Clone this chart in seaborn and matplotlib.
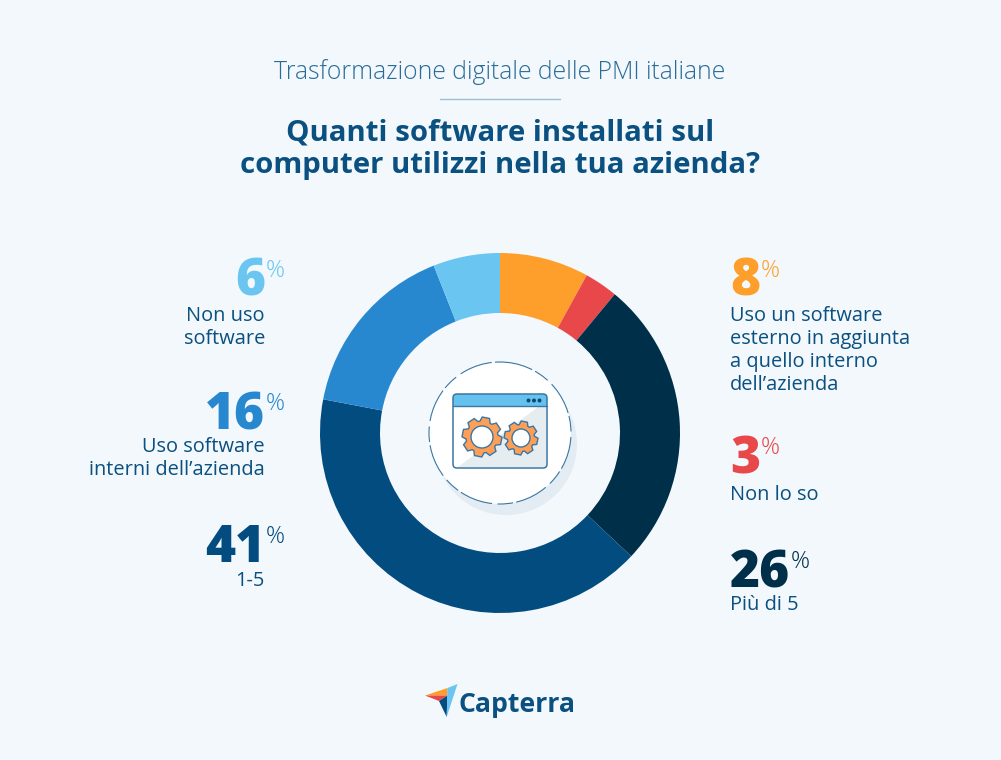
import numpy as np
import seaborn as sns
from matplotlib import pyplot as plt
from matplotlib.patches import Circle, FancyBboxPatch, Polygon, Rectangle

values = [8, 3, 26, 41, 16, 6]
labels = [
    "Uso un software\nesterno in aggiunta\na quello interno\ndell\u2019azienda",
    "Non lo so",
    "Pi\u00f9 di 5",
    "1-5",
    "Uso software\ninterni dell\u2019azienda",
    "Non uso\nsoftware",
]
colors = ["#FF9F2B", "#E8484A", "#002F4A", "#024C80", "#2788D0", "#6AC6F1"]
subtitle = "Trasformazione digitale delle PMI italiane"
title = "Quanti software installati sul\ncomputer utilizzi nella tua azienda?"

BG = "#F3F8FC"
TEXT = "#0A5080"

# x, number baseline y, y of top of label text (picture pixels)
label_pos = [(730, 296, 306), (730, 473, 485), (730, 587, 595), (265, 562, 571), (265, 429, 437), (265, 296, 306)]


def gear(ax, cx, cy, r_out, r_root, r_hole, teeth=8, start=0.2):
    pts = []
    step = 2 * np.pi / teeth
    for i in range(teeth):
        a = start + i * step
        for da, r in [(-.30, r_root), (-.17, r_out), (.17, r_out), (.30, r_root)]:
            pts.append((cx + r * np.cos(a + da * step * 1.4), cy + r * np.sin(a + da * step * 1.4)))
    ax.add_patch(Polygon(pts, closed=True, fc="#FF9F55", ec="#3A76A3", lw=1, zorder=6))
    ax.add_patch(Circle((cx, cy), r_hole, fc="white", ec="#3A76A3", lw=1, zorder=7))


sns.set_theme(style="white")
plt.rcParams['font.family'] = ['Open Sans', 'DejaVu Sans']

fig = plt.figure(figsize=(10.01, 7.6), dpi=100, facecolor=BG)

# donut: center (500, 433) radius 180 in picture pixels
ax_pie = fig.add_axes([320 / 1001, (760 - 613) / 760, 360 / 1001, 360 / 760])
ax_pie.pie(values, colors=colors, startangle=90, counterclock=False, radius=1,
           wedgeprops=dict(width=60 / 180, linewidth=0))
ax_pie.set_xlim(-1, 1)
ax_pie.set_ylim(-1, 1)
ax_pie.axis('off')

# overlay in picture pixels for text and icon
ax = fig.add_axes([0, 0, 1, 1], facecolor='none')
ax.set_xlim(0, 1001)
ax.set_ylim(760, 0)
ax.axis('off')

ax.text(500, 72.5, subtitle, ha='center', va='center', fontsize=17.8, color="#2A6C99", fontweight='light')
ax.plot([440, 560], [99, 99], color="#9CBFD2", lw=1)
ax.text(500, 149.5, title, ha='center', va='center', fontsize=21.2, color=TEXT, fontweight='bold',
        linespacing=1.17)

for value, label, color, (x, y, y_label) in zip(values, labels, colors, label_pos):
    left = x > 500
    num = ax.text(x, y, str(value), ha='left' if left else 'right', va='baseline',
                  fontsize=37, fontweight='heavy', color=color)
    fig.canvas.draw()
    bb = num.get_window_extent()
    x_pct = bb.x1 + 1
    ax.text(x_pct, y - 19, "%", ha='left', va='baseline', fontsize=17, color=color, fontweight='light')
    ax.text(x, y_label, label, ha='left' if left else 'right', va='top', fontsize=14.4,
            color=TEXT, linespacing=1.19, multialignment='left' if left else 'right')

# icon
ax.add_patch(Circle((506, 444), 71, fc="#E3ECF2", ec='none', zorder=2))
ax.add_patch(Circle((500, 433), 71, fc="white", ec="#3A76A3", lw=.8, ls=(0, (30, 3, 14, 5)), zorder=3))
ax.add_patch(FancyBboxPatch((453, 394), 94, 74, boxstyle="round,pad=0,rounding_size=4",
                            fc="white", ec='none', zorder=4))
ax.add_patch(Polygon([(538, 407), (546, 407), (546, 467), (458, 467)], closed=True, fc="#E6EDF1", ec='none', zorder=4))
ax.add_patch(FancyBboxPatch((453, 394), 94, 12, boxstyle="round,pad=0,rounding_size=4",
                            fc="#66C1EE", ec='none', zorder=4))
ax.add_patch(Rectangle((453, 400), 94, 6, fc="#66C1EE", ec='none', zorder=4))
ax.add_patch(FancyBboxPatch((453, 394), 94, 74, boxstyle="round,pad=0,rounding_size=4",
                            fc='none', ec="#3A76A3", lw=1.1, zorder=5))
ax.plot([453, 547], [406, 406], color="#3A76A3", lw=1, zorder=5)
for cx in [528.5, 534, 539.5]:
    ax.add_patch(Circle((cx, 400.5), 2, fc="#0B4A78", ec='none', zorder=6))
gear(ax, 482, 437, 20, 16, 11)
gear(ax, 521, 438, 17, 13.5, 9)

# logo
ax.add_patch(Polygon([(425, 695.5), (447.5, 688), (447.5, 695.5)], closed=True, fc="#FF9F2B", ec='none'))
ax.add_patch(Polygon([(425, 695.5), (447.5, 695.5), (439, 701)], closed=True, fc="#E8484A", ec='none'))
ax.add_patch(Polygon([(439, 701), (447.5, 695.5), (446.7, 717)], closed=True, fc="#024C80", ec='none'))
ax.add_patch(Polygon([(447.5, 688), (457.5, 684), (446.7, 717)], closed=True, fc="#6AC6F1", ec='none'))
ax.text(459, 712, "Capterra", ha='left', va='baseline', fontsize=19.2, fontweight='bold', color=TEXT)

fig.savefig('out.png', dpi=100, facecolor=BG)
